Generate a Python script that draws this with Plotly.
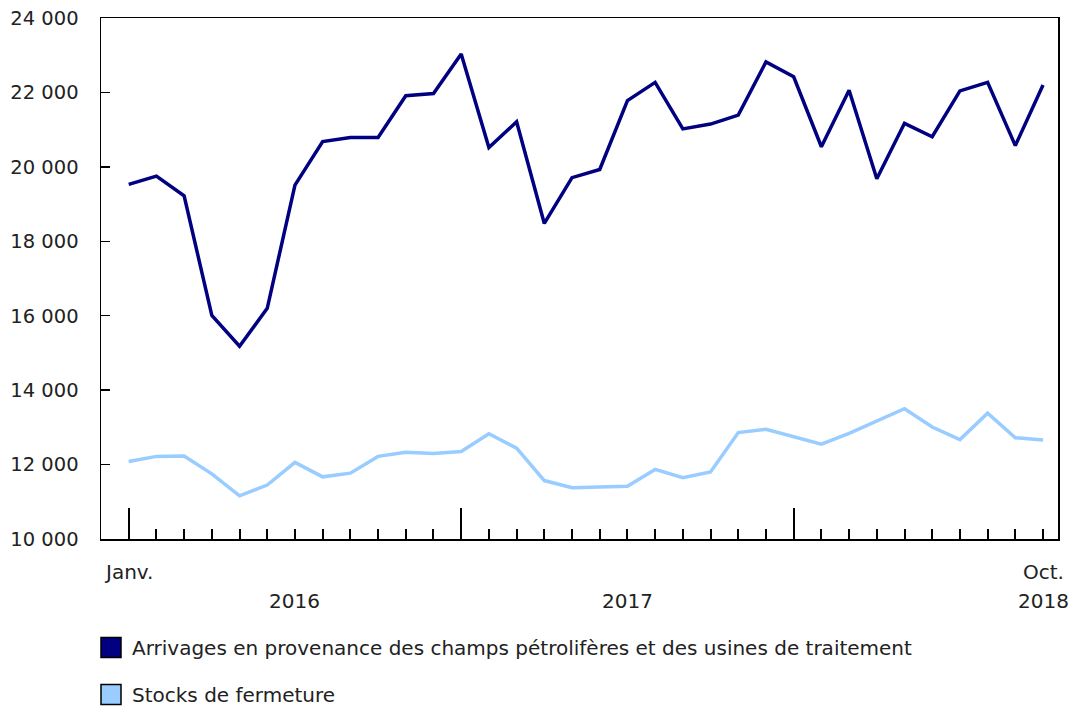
import plotly.graph_objects as go

months = ["2016-01","2016-02","2016-03","2016-04","2016-05","2016-06","2016-07","2016-08","2016-09","2016-10","2016-11","2016-12",
          "2017-01","2017-02","2017-03","2017-04","2017-05","2017-06","2017-07","2017-08","2017-09","2017-10","2017-11","2017-12",
          "2018-01","2018-02","2018-03","2018-04","2018-05","2018-06","2018-07","2018-08","2018-09","2018-10"]

arrivages = [19530, 19750, 19220, 16010, 15180, 16200, 19510, 20680, 20790, 20790, 21910, 21970,
             23030, 20520, 21210, 18480, 19710, 19930, 21780, 22270, 21020, 21150, 21390, 22820,
             22420, 20540, 22060, 19680, 21170, 20810, 22040, 22270, 20570, 22200]

stocks = [12080, 12220, 12230, 11750, 11160, 11450, 12060, 11670, 11770, 12220, 12330, 12300,
          12350, 12830, 12440, 11570, 11380, 11390, 11420, 11870, 11650, 11800, 12860, 12950,
          12760, 12550, 12840, 13180, 13500, 13010, 12670, 13380, 12720, 12660]

series_names = ["Arrivages en provenance des champs pétrolifères et des usines de traitement",
                "Stocks de fermeture"]

y_ticks = [10000, 12000, 14000, 16000, 18000, 20000, 22000, 24000]
y_ticktext = ["10 000", "12 000", "14 000", "16 000", "18 000", "20 000", "22 000", "24 000"]

month_labels = [(0, "Janv."), (33, "Oct.")]
year_labels = [(6, "2016"), (18, "2017"), (33, "2018")]
year_ticks = [0, 12, 24]

dark = "#000080"
light = "#99CCFF"
font = "DejaVu Sans"
txt = "#222222"
fs = 20

idx = list(range(len(months)))
x_range = [-1.0, 33.54]

W, H = 1072, 707
L, R, T, B = 101, 14, 18, 168
pw, ph = W - L - R, H - T - B


def px_x(p):
    return (p - L) / pw


def px_y(p):
    return (H - B - p) / ph


fig = go.Figure()
fig.add_trace(go.Scatter(x=idx, y=arrivages, mode="lines", line=dict(color=dark, width=3.5),
                         name=series_names[0], showlegend=False, hoverinfo="skip"))
fig.add_trace(go.Scatter(x=idx, y=stocks, mode="lines", line=dict(color=light, width=3.5),
                         name=series_names[1], showlegend=False, hoverinfo="skip", xaxis="x2"))

for xv, t in month_labels:
    fig.add_annotation(x=xv, y=px_y(572), xref="x", yref="paper", text=t, showarrow=False,
                       font=dict(family=font, size=fs, color=txt), xanchor="center", yanchor="middle")
for xv, t in year_labels:
    fig.add_annotation(x=xv, y=px_y(601), xref="x", yref="paper", text=t, showarrow=False,
                       font=dict(family=font, size=fs, color=txt), xanchor="center", yanchor="middle")

# legend (square swatches + labels)
legend_rows = [(series_names[0], dark, 647.5), (series_names[1], light, 694.5)]
for name, col, cy in legend_rows:
    fig.add_shape(type="rect", xref="paper", yref="paper",
                  x0=px_x(101), x1=px_x(121), y0=px_y(cy - 10), y1=px_y(cy + 10),
                  fillcolor=col, line=dict(color="#000000", width=1.5))
    fig.add_annotation(x=px_x(130), y=px_y(cy), xref="paper", yref="paper", text=name,
                       showarrow=False, xanchor="left", yanchor="middle",
                       font=dict(family=font, size=fs, color=txt))

fig.update_layout(
    xaxis=dict(range=x_range, showgrid=False, zeroline=False, automargin=False,
               showline=True, linecolor="black", linewidth=1.5, mirror=True,
               tickmode="array", tickvals=idx, showticklabels=False,
               ticks="inside", ticklen=10, tickwidth=2, tickcolor="black"),
    xaxis2=dict(range=x_range, overlaying="x", anchor="y", side="bottom", showgrid=False,
                zeroline=False, automargin=False, showline=False,
                tickmode="array", tickvals=year_ticks, showticklabels=False,
                ticks="inside", ticklen=31, tickwidth=2, tickcolor="black"),
    yaxis=dict(range=[10000, 24000], showgrid=False, zeroline=False, automargin=False,
               showline=True, linecolor="black", linewidth=1.5, mirror=True,
               tickmode="array", tickvals=y_ticks, ticktext=y_ticktext,
               ticks="inside", ticklen=9, tickwidth=1.5, tickcolor="black",
               ticklabelstandoff=17,
               tickfont=dict(family=font, size=19.5, color=txt)),
    width=W, height=H,
    margin=dict(l=L, r=R, t=T, b=B, autoexpand=False),
    plot_bgcolor="white", paper_bgcolor="white",
    font=dict(family=font, size=fs, color=txt),
    showlegend=False,
)

fig.write_html("out.html", config={"displayModeBar": False, "staticPlot": True},
               post_script="document.body.style.margin='0';document.body.style.overflow='hidden';")
